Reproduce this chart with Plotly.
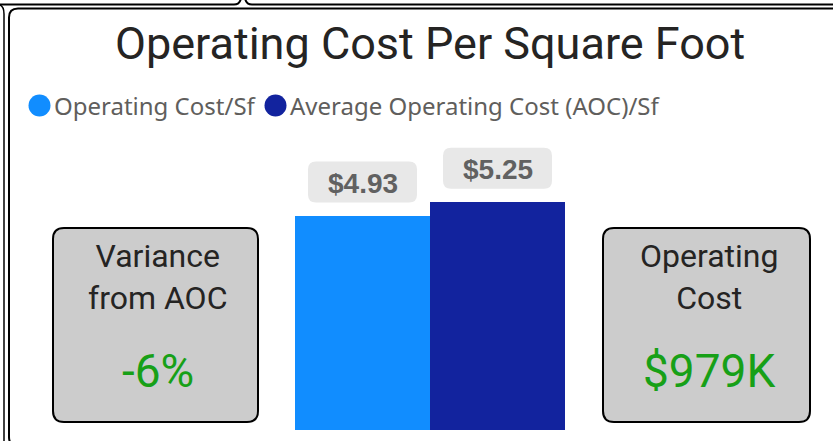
import plotly.graph_objects as go

W, H = 833, 441

# ---------------- data ----------------
title_text = "Operating Cost Per Square Foot"
series_names = ["Operating Cost/Sf", "Average Operating Cost (AOC)/Sf"]
series_values = [4.93, 5.25]
series_colors = ["#118DFF", "#12239E"]
value_labels = ["$4.93", "$5.25"]

card_titles = ["Variance<br>from AOC", "Operating<br>Cost"]
card_values = ["-6%", "$979K"]

GREEN = "#17A017"
DARK = "#252423"
GRAY = "#605E5C"


def px(x):
    return x / W


def py(y):
    return 1 - y / H


def rrect_paper(x0, y0, x1, y1, r):
    """Rounded rectangle path given in pixel coords -> paper coords."""
    pts = [
        ("M", [(x0 + r, y0)]),
        ("L", [(x1 - r, y0)]),
        ("Q", [(x1, y0), (x1, y0 + r)]),
        ("L", [(x1, y1 - r)]),
        ("Q", [(x1, y1), (x1 - r, y1)]),
        ("L", [(x0 + r, y1)]),
        ("Q", [(x0, y1), (x0, y1 - r)]),
        ("L", [(x0, y0 + r)]),
        ("Q", [(x0, y0), (x0 + r, y0)]),
    ]
    s = ""
    for cmd, ps in pts:
        s += cmd + " " + " ".join(f"{px(a):.5f},{py(b):.5f}" for a, b in ps) + " "
    return s + "Z"


def rrect_pixel(x0, y0, x1, y1, r):
    """Rounded rectangle path in pixel offsets (y up)."""
    return (f"M {x0 + r},{y0} L {x1 - r},{y0} Q {x1},{y0} {x1},{y0 + r} "
            f"L {x1},{y1 - r} Q {x1},{y1} {x1 - r},{y1} L {x0 + r},{y1} "
            f"Q {x0},{y1} {x0},{y1 - r} L {x0},{y0 + r} Q {x0},{y0} {x0 + r},{y0} Z")


xs = list(range(len(series_values)))

fig = go.Figure()
fig.add_trace(go.Bar(
    x=xs,
    y=series_values,
    marker=dict(color=series_colors, line=dict(width=0)),
    width=1.0,
    showlegend=False,
    hoverinfo="skip",
))

shapes = []
annotations = []

# ---------- frame lines ----------
frame_line = dict(color="#000000", width=2)
shapes.append(dict(type="path", xref="paper", yref="paper",
                   path=f"M {px(-2)},{py(4.5)} L {px(234)},{py(4.5)} Q {px(240)},{py(4.5)} {px(241)},{py(-2)}",
                   line=frame_line))
shapes.append(dict(type="path", xref="paper", yref="paper",
                   path=f"M {px(245)},{py(-2)} Q {px(246)},{py(4.5)} {px(252)},{py(4.5)} L {px(840)},{py(4.5)}",
                   line=frame_line))
shapes.append(dict(type="path", xref="paper", yref="paper",
                   path=rrect_paper(9, 8.5, 860, 446, 9),
                   line=frame_line, fillcolor="rgba(0,0,0,0)"))
shapes.append(dict(type="path", xref="paper", yref="paper",
                   path=f"M {px(-2)},{py(4.5)} Q {px(4)},{py(5)} {px(4)},{py(14)} L {px(4)},{py(445)}",
                   line=dict(color="#000000", width=1.5)))

# ---------- title ----------
annotations.append(dict(
    text=title_text, xref="paper", yref="paper", x=px(430), y=py(44),
    xanchor="center", yanchor="middle", showarrow=False,
    font=dict(family="Roboto", size=45, color=DARK),
))

# ---------- legend ----------
legend_items = [(39.5, 52), (275.5, 288)]
for (cx, tx), name, col in zip(legend_items, series_names, series_colors):
    r = 11
    shapes.append(dict(type="circle", xref="paper", yref="paper",
                       x0=px(cx - r), x1=px(cx + r), y0=py(105.5 + r), y1=py(105.5 - r),
                       fillcolor=col, line=dict(width=0)))
    annotations.append(dict(
        text=name, xref="paper", yref="paper", x=px(tx), y=py(106),
        xanchor="left", yanchor="middle", showarrow=False,
        font=dict(family="Noto Sans", size=24, color=GRAY),
    ))

# ---------- data labels (rounded gray boxes) ----------
for xi, v, lab in zip(xs, series_values, value_labels):
    shapes.append(dict(type="path", xref="x", yref="y",
                       xsizemode="pixel", ysizemode="pixel",
                       xanchor=xi, yanchor=v,
                       path=rrect_pixel(-54.5, 13, 54.5, 54, 8),
                       fillcolor="#E8E8E8", line=dict(width=0), layer="above"))
    annotations.append(dict(
        text=f"<b>{lab}</b>", xref="x", yref="y", x=xi, y=v, yshift=32,
        xanchor="center", yanchor="middle", showarrow=False,
        font=dict(family="Liberation Sans", size=28, color="#616161"),
    ))

# ---------- KPI cards ----------
cards = [(53, 258), (603, 810)]
for (x0, x1), ttl, val in zip(cards, card_titles, card_values):
    shapes.append(dict(type="path", xref="paper", yref="paper",
                       path=rrect_paper(x0, 228, x1, 422, 11),
                       fillcolor="#CCCCCC", line=dict(color="#000000", width=2), layer="below"))
    cx = (x0 + x1) / 2 + 2
    annotations.append(dict(
        text=ttl, xref="paper", yref="paper", x=px(cx), y=py(277),
        xanchor="center", yanchor="middle", showarrow=False,
        font=dict(family="Roboto", size=32, color=DARK),
    ))
    annotations.append(dict(
        text=val, xref="paper", yref="paper", x=px(cx), y=py(371),
        xanchor="center", yanchor="middle", showarrow=False,
        font=dict(family="Roboto", size=46, color=GREEN),
    ))

fig.update_layout(
    width=W, height=H,
    margin=dict(l=0, r=0, t=0, b=0),
    paper_bgcolor="#FFFFFF",
    plot_bgcolor="rgba(0,0,0,0)",
    bargap=0,
    showlegend=False,
    xaxis=dict(domain=[px(295), px(565)], range=[-0.5, 1.5],
               visible=False, fixedrange=True),
    yaxis=dict(domain=[py(430), py(100)], range=[0, 7.588],
               visible=False, fixedrange=True),
    shapes=shapes,
    annotations=annotations,
)

fig.write_html(
    "out.html",
    config={"displayModeBar": False},
    post_script="document.body.style.margin='0';document.body.style.overflow='hidden';",
)
